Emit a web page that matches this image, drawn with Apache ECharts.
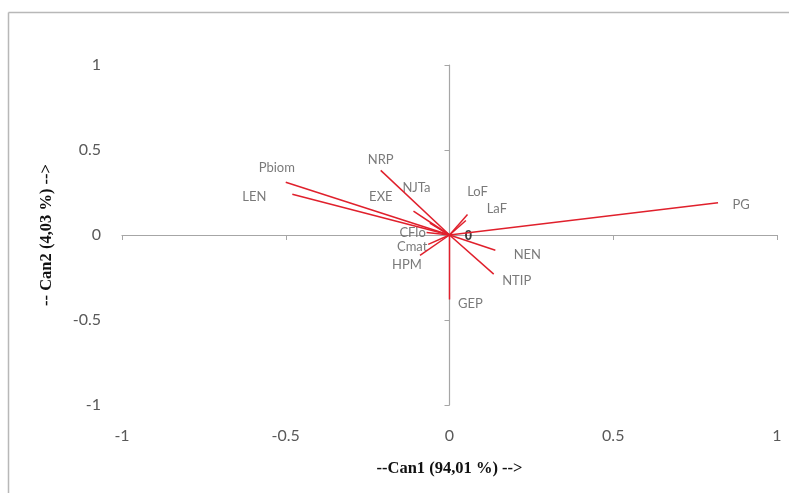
<!DOCTYPE html>
<html>
<head>
<meta charset="utf-8">
<script src="https://cdn.jsdelivr.net/npm/echarts@6/dist/echarts.min.js"></script>
<style>html,body{margin:0;padding:0;background:#fff;}#c{width:789px;height:493px;}</style>
</head>
<body>
<div id="c"></div>
<script>
// Variable names and their coordinates on the two canonical axes
const names = ['PG','Pbiom','LEN','NRP','NJTa','EXE','LoF','LaF','CFlo','Cmat','HPM','NEN','NTIP','GEP'];
const can1  = [0.82,-0.50,-0.48,-0.21,-0.11,-0.06,0.055,0.05,-0.07,-0.065,-0.09,0.14,0.135,0.0];
const can2  = [0.19, 0.31, 0.24, 0.38, 0.14, 0.07,0.12,0.085,0.015,-0.055,-0.12,-0.09,-0.23,-0.38];
const tickValues = [-1,-0.5,0,0.5,1];
// label offsets (pixels) from each vector end
const labelOffsets = [[23,2],[-9,-14],[-38,3],[0,-11],[3,-23],[-49,-26],[10,-23],[31,-12],[-14,0],[-16,2],[-13,9],[32,5],[23,7],[21,4]];

const RED = '#e0202c';
const GRAY = '#a6a6a6';
const TXT = '#595959';

const series = [];
names.forEach((n,i)=>{
  series.push({
    type:'line', name:n, xAxisIndex:0, yAxisIndex:0,
    data:[[0,0],[can1[i],can2[i]]],
    symbol:'none', silent:true, animation:false,
    lineStyle:{color:RED, width:1.5}
  });
});
series.push({
  type:'scatter', xAxisIndex:0, yAxisIndex:0, symbolSize:0, animation:false, silent:true,
  data: names.map((n,i)=>({value:[can1[i],can2[i]], name:n,
     label:{offset:labelOffsets[i]}})),
  label:{show:true, position:'inside', formatter:'{b}', color:TXT, fontSize:13, fontFamily:'Lato, "Open Sans", sans-serif'}
});
series.push({
  type:'scatter', xAxisIndex:0, yAxisIndex:0, symbolSize:0, animation:false, silent:true,
  data:[{value:[0,0], name:'0', label:{offset:[19,1]}}],
  label:{show:true, position:'inside', formatter:'{b}', color:'#111', fontWeight:'bold', fontSize:14, fontFamily:'"Liberation Sans", Arial, sans-serif'}
});

const chart = echarts.init(document.getElementById('c'), null, {renderer:'canvas'});
chart.setOption({
  backgroundColor:'#fff',
  animation:false,
  graphic:[
    {type:'line', shape:{x1:8.5,y1:12.5,x2:800,y2:12.5}, style:{stroke:'#b8b8b8', lineWidth:1.5}},
    {type:'line', shape:{x1:8.5,y1:12.5,x2:8.5,y2:500}, style:{stroke:'#b8b8b8', lineWidth:1.5}}
  ],
  grid:{left:122, right:12, top:65, bottom:88},
  xAxis:[
    {type:'value', min:-1, max:1, interval:0.5, position:'bottom',
     axisLine:{show:false, onZero:false}, axisTick:{show:false}, splitLine:{show:false},
     axisLabel:{margin:23, color:TXT, fontSize:16, fontFamily:'Lato, "Open Sans", sans-serif',
       customValues: tickValues, formatter:v=>String(v)},
     name:'--Can1 (94,01 %) -->', nameLocation:'middle', nameGap:55,
     nameTextStyle:{fontFamily:'"Liberation Serif", "Times New Roman", serif', fontWeight:'bold', fontSize:16.5, color:'#111'}},
    {type:'value', min:-1, max:1, interval:0.5, position:'bottom',
     axisLine:{show:true, onZero:true, onZeroAxisIndex:0, lineStyle:{color:GRAY, width:1.2}},
     axisTick:{show:true, length:5, lineStyle:{color:GRAY}}, axisLabel:{show:false}, splitLine:{show:false}}
  ],
  yAxis:[
    {type:'value', min:-1, max:1, interval:0.5, position:'left',
     axisLine:{show:false, onZero:false}, axisTick:{show:false}, splitLine:{show:false},
     axisLabel:{margin:21, color:TXT, fontSize:16, fontFamily:'Lato, "Open Sans", sans-serif',
       customValues: tickValues, formatter:v=>String(v)},
     name:'-- Can2 (4,03 %) -->', nameLocation:'middle', nameGap:67,
     nameTextStyle:{fontFamily:'"Liberation Serif", "Times New Roman", serif', fontWeight:'bold', fontSize:16.5, color:'#111'}},
    {type:'value', min:-1, max:1, interval:0.5, position:'left',
     axisLine:{show:true, onZero:true, onZeroAxisIndex:0, lineStyle:{color:GRAY, width:1.2}},
     axisTick:{show:true, length:5, lineStyle:{color:GRAY}}, axisLabel:{show:false}, splitLine:{show:false}}
  ],
  series: series
});
</script>
</body>
</html>
